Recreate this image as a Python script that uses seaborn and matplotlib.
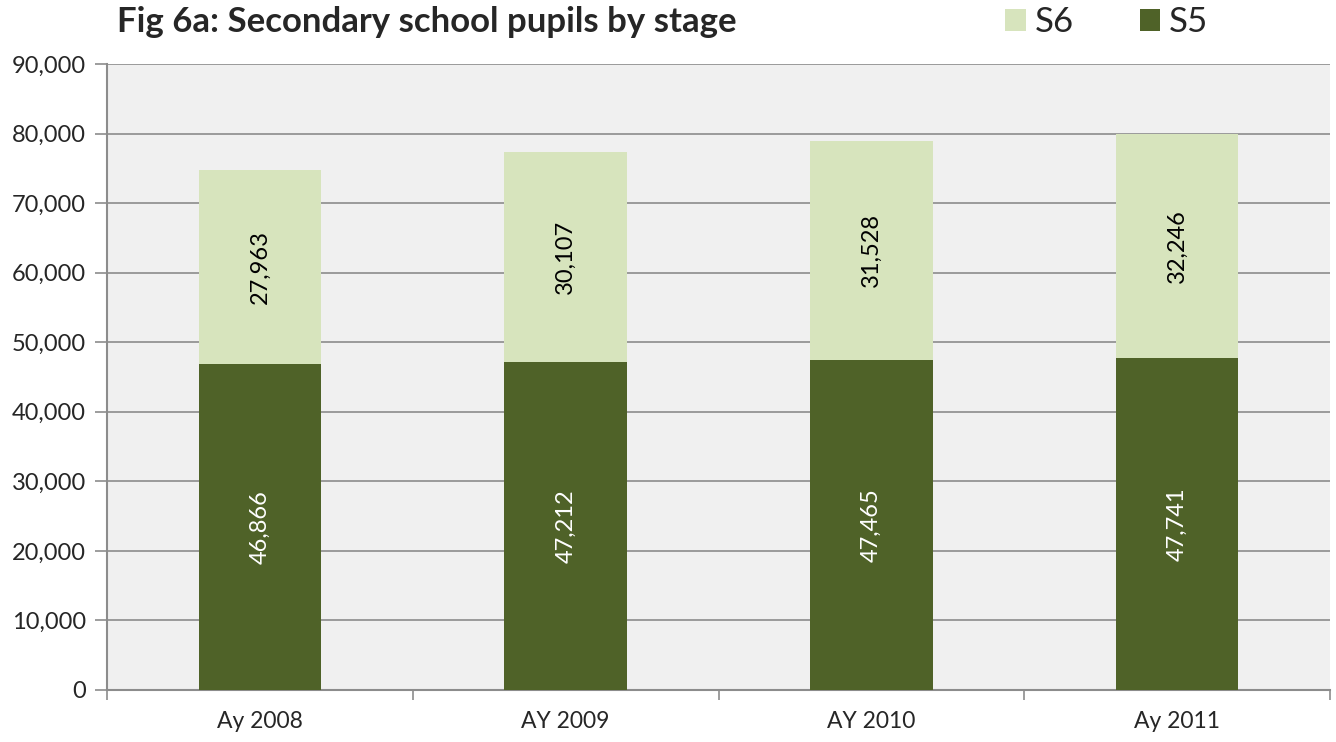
import matplotlib
matplotlib.use("Agg")
import matplotlib.pyplot as plt
import seaborn as sns
import pandas as pd
from matplotlib.patches import Patch
from matplotlib.ticker import FuncFormatter, FixedLocator

years = ["Ay 2008", "AY 2009", "AY 2010", "Ay 2011"]
s5 = [46866, 47212, 47465, 47741]
s6 = [27963, 30107, 31528, 32246]
y_ticks = [0, 10000, 20000, 30000, 40000, 50000, 60000, 70000, 80000, 90000]

c_s5 = "#4f6228"
c_s6 = "#d7e4bd"
grid_c = "#8c8c8c"

sns.set_theme(style="white")
plt.rcParams["font.family"] = ["Lato", "DejaVu Sans"]

df = pd.DataFrame({"year": years, "S5": s5, "S6": s6})
df["total"] = df["S5"] + df["S6"]

fig = plt.figure(figsize=(13.36, 7.42), dpi=100)
ax = fig.add_axes([107/1336, 1-690/742, (1330-107)/1336, (690-64)/742])
ax.set_facecolor("#f0f0f0")

sns.barplot(data=df, x="year", y="total", color=c_s6, width=0.4, ax=ax,
            saturation=1, edgecolor="none", zorder=3)
sns.barplot(data=df, x="year", y="S5", color=c_s5, width=0.4, ax=ax,
            saturation=1, edgecolor="none", zorder=3)

for i in range(len(years)):
    ax.text(i, s5[i] / 2, f"{s5[i]:,}", rotation=90, ha="center", va="center",
            color="white", fontsize=17, zorder=4)
    ax.text(i, s5[i] + s6[i] / 2, f"{s6[i]:,}", rotation=90, ha="center",
            va="center", color="black", fontsize=17, zorder=4)

ax.set_ylim(0, 90000)
ax.set_xlim(-0.5, len(years) - 0.5)
ax.set_yticks(y_ticks)
ax.yaxis.set_major_formatter(FuncFormatter(lambda v, p: f"{int(v):,}"))
ax.yaxis.grid(True, color=grid_c, linewidth=1.2, zorder=0)
ax.set_axisbelow(True)
ax.set_xlabel("")
ax.set_ylabel("")

ax.tick_params(axis="y", which="major", length=9, width=1.2, color=grid_c,
               labelsize=17, pad=6, left=True)
ax.tick_params(axis="x", which="major", length=0, labelsize=16.5, pad=15)
ax.xaxis.set_minor_locator(FixedLocator([-0.5, 0.5, 1.5, 2.5, 3.5]))
ax.tick_params(axis="x", which="minor", length=7, width=1.2, color=grid_c,
               bottom=True)

for side in ["top", "right"]:
    ax.spines[side].set_visible(False)
for side in ["left", "bottom"]:
    ax.spines[side].set_color(grid_c)
    ax.spines[side].set_linewidth(1.5)

fig.text(117/1336, 1-22/742, "Fig 6a: Secondary school pupils by stage",
         fontsize=25, fontweight="bold", ha="left", va="center")

handles = [Patch(facecolor=c_s6, edgecolor="none", label="S6"),
           Patch(facecolor=c_s5, edgecolor="none", label="S5")]
fig.legend(handles=handles, loc="center left",
           bbox_to_anchor=(1005/1336, 1-22/742), ncol=2, frameon=False,
           fontsize=25, handlelength=0.6, handleheight=0.6,
           handletextpad=0.25, columnspacing=1.9, borderaxespad=0,
           borderpad=0)

fig.savefig("out.png", dpi=100, facecolor="white")
